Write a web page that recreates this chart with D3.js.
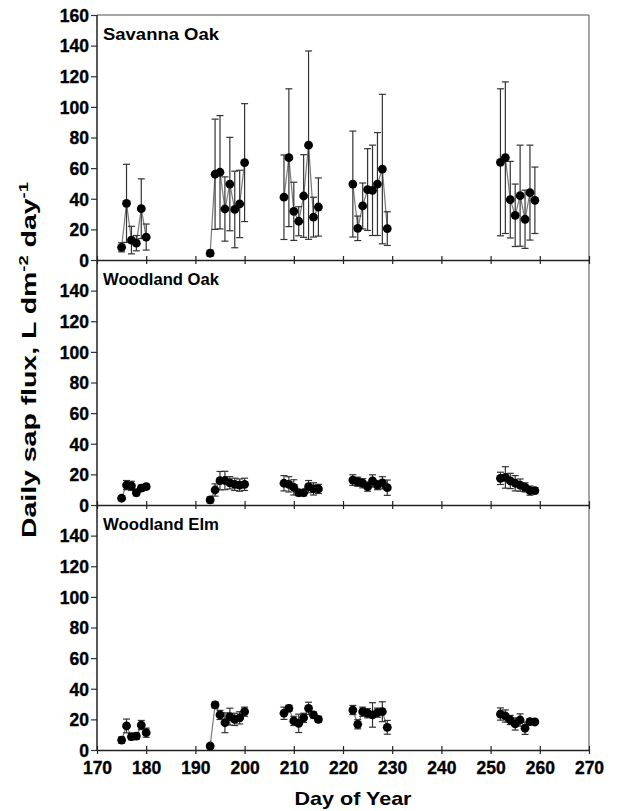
<!DOCTYPE html>
<html>
<head>
<meta charset="utf-8">
<script src="https://cdn.jsdelivr.net/npm/d3@7"></script>
<style>
    body { margin: 0; background: #fff; }
    svg text { font-family: "Liberation Sans", Arial, sans-serif; font-weight: bold; fill: #000; }
</style>
</head>
<body>
<svg id="sapPlot" width="617" height="811"></svg>
<script>
"use strict";

const width = 617;
const height = 811;
const margin = { "top": 15, "left": 97, "right": 28 };
const panelHeight = 245;
const innerWidth = width - margin.left - margin.right;

// data
const days = [175, 176, 177, 178, 179, 180,
    193, 194, 195, 196, 197, 198, 199, 200,
    208, 209, 210, 211, 212, 213, 214, 215,
    222, 223, 224, 225, 226, 227, 228, 229,
    252, 253, 254, 255, 256, 257, 258, 259];

const savannaOak = [8.3, 37, 13, 11, 33.5, 15,
    4.4, 56, 57.3, 33.3, 49.6, 33, 36.6, 63.6,
    41, 66.8, 31.8, 25.3, 41.8, 75, 28, 34.6,
    49.6, 20.7, 35.3, 46, 45.5, 49.6, 59.4, 20.5,
    63.8, 66.8, 39.4, 29.2, 42, 26.6, 44, 39];
const savannaOakErr = [3, 25.5, 9, 5, 19.5, 8.5,
    2, 36, 37, 21, 30.5, 25, 22, 38.5,
    27.6, 45, 19, 9.5, 27, 61.5, 13, 19,
    34.6, 8, 15, 26.7, 29.5, 33.6, 48.8, 11,
    48, 49.5, 25, 20.4, 33, 19, 31, 21.7];

const woodlandOak = [4.4, 13, 12.5, 8, 11, 12,
    3.3, 9.8, 15.9, 16, 14.5, 13.5, 13, 13.5,
    14.2, 13.5, 11.5, 8, 8, 12, 10.5, 10.5,
    16.3, 15.2, 14.2, 12, 15.7, 13, 14.5, 11.3,
    17.4, 18, 15.7, 14.2, 13, 11.5, 9.4, 9.4];
const woodlandOakErr = [1.5, 3, 3, 2, 2, 1.5,
    2, 4, 6, 6, 4, 4, 4, 4,
    5, 5, 5, 2, 2, 4, 4, 3,
    3.5, 3, 3, 3, 4, 3, 4, 5,
    4, 7, 5, 5, 4, 3, 3, 2];

const woodlandElm = [6.5, 15.7, 8.7, 9.1, 16.3, 11.3,
    2.6, 29.4, 22.9, 17.8, 21.8, 20, 21, 25,
    24, 27.2, 19, 17.4, 21, 27.2, 22.9, 20,
    26.1, 16.8, 25, 24, 22.9, 24.4, 25, 14.8,
    23.5, 22.2, 19.6, 17, 19.6, 14.2, 18.5, 18.3];
const woodlandElmErr = [2, 4.5, 2, 2, 3, 3,
    1.5, 2, 3, 6.5, 5.5, 4, 4, 3,
    4, 2, 3, 6, 3, 4, 2, 2,
    3, 3, 3, 3, 8, 3, 6.5, 4.5,
    4, 4, 3, 4, 4, 4, 2, 1];

const panelNames = ["Savanna Oak", "Woodland Oak", "Woodland Elm"];
const panelValues = [savannaOak, woodlandOak, woodlandElm];
const panelErrors = [savannaOakErr, woodlandOakErr, woodlandElmErr];

const xTicks = d3.range(170, 271, 10);
const yTicks = [0, 20, 40, 60, 80, 100, 120, 140, 160];

const svg = d3.select("svg#sapPlot");

let xScale = d3.scaleLinear()
    .domain([170, 270])
    .range([margin.left, margin.left + innerWidth]);

// split days into runs of consecutive days
function runs(points) {
    let out = [];
    let cur = [];
    points.forEach((p, i) => {
        if (i > 0 && p.day - points[i - 1].day > 1) {
            out.push(cur);
            cur = [];
        }
        cur.push(p);
    });
    out.push(cur);
    return out;
}

function boldLabels(sel) {
    sel.style("font-family", "'Liberation Sans', Arial, sans-serif")
        .style("font-weight", "bold")
        .style("font-size", "17.5px")
        .attr("fill", "#000")
        .attr("stroke", "#000")
        .attr("stroke-width", 0.35);
}

function drawPanel(idx) {
    let top = margin.top + idx * panelHeight;
    let yScale = d3.scaleLinear()
        .domain([0, 160])
        .range([top + panelHeight, top]);

    let points = days.map((d, i) => ({
        day: d,
        v: panelValues[idx][i],
        e: panelErrors[idx][i]
    }));

    let g = svg.append("g").attr("class", "panel");

    // y axis
    let ticks = idx == 0 ? yTicks : yTicks.slice(0, 8);
    let yAxis = d3.axisLeft(yScale)
        .tickValues(ticks)
        .tickSize(6)
        .tickPadding(2);
    let ya = g.append("g")
        .attr("transform", `translate(${margin.left},0)`)
        .call(yAxis);
    ya.select(".domain").remove();
    ya.selectAll("line").attr("stroke", "#333").attr("stroke-width", 1.2);
    ya.selectAll("text")
        .call(boldLabels)
        .attr("dy", "0.36em");

    // x axis with ticks crossing the line
    let xAxis = d3.axisBottom(xScale)
        .tickValues(xTicks)
        .tickSizeInner(0)
        .tickSizeOuter(0)
        .tickFormat(d3.format("d"));
    let xa = g.append("g")
        .attr("transform", `translate(0,${top + panelHeight})`)
        .call(xAxis);
    xa.select(".domain").attr("stroke", "#222").attr("stroke-width", 1.5);
    xa.selectAll(".tick line")
        .attr("y1", -4).attr("y2", 4)
        .attr("stroke", "#222").attr("stroke-width", 1.2);
    if (idx != 2) {
        xa.selectAll("text").remove();
    } else {
        xa.selectAll("text")
            .call(boldLabels)
            .attr("y", 12);
    }

    // connecting lines
    let line = d3.line()
        .x(p => xScale(p.day))
        .y(p => yScale(p.v));
    g.selectAll("path.conn")
        .data(runs(points))
        .enter()
        .append("path")
        .attr("class", "conn")
        .attr("d", line)
        .attr("fill", "none")
        .attr("stroke", "#7a7a7a")
        .attr("stroke-width", 1.2);

    // error bars
    let capW = 3.5;
    let eb = g.selectAll("g.err")
        .data(points)
        .enter()
        .append("g")
        .attr("class", "err")
        .attr("stroke", "#333")
        .attr("stroke-width", 1.2);
    eb.append("line")
        .attr("x1", p => xScale(p.day)).attr("x2", p => xScale(p.day))
        .attr("y1", p => yScale(p.v - p.e)).attr("y2", p => yScale(p.v + p.e));
    eb.append("line")
        .attr("x1", p => xScale(p.day) - capW).attr("x2", p => xScale(p.day) + capW)
        .attr("y1", p => yScale(p.v + p.e)).attr("y2", p => yScale(p.v + p.e));
    eb.append("line")
        .attr("x1", p => xScale(p.day) - capW).attr("x2", p => xScale(p.day) + capW)
        .attr("y1", p => yScale(p.v - p.e)).attr("y2", p => yScale(p.v - p.e));

    // markers
    g.selectAll("circle.mark")
        .data(points)
        .enter()
        .append("circle")
        .attr("class", "mark")
        .attr("cx", p => xScale(p.day))
        .attr("cy", p => yScale(p.v))
        .attr("r", 4.4)
        .attr("fill", "#000");

    // panel label
    g.append("text")
        .attr("x", margin.left + 6)
        .attr("y", top + 25)
        .attr("textLength", 116)
        .attr("lengthAdjust", "spacingAndGlyphs")
        .style("font-size", "17px")
        .text(panelNames[idx]);
}

// frame: gray top and right, black left
svg.append("line")
    .attr("x1", margin.left).attr("x2", margin.left + innerWidth)
    .attr("y1", margin.top).attr("y2", margin.top)
    .attr("stroke", "#888").attr("stroke-width", 1.5);
svg.append("line")
    .attr("x1", margin.left + innerWidth).attr("x2", margin.left + innerWidth)
    .attr("y1", margin.top).attr("y2", margin.top + 3 * panelHeight)
    .attr("stroke", "#888").attr("stroke-width", 1.5);

[0, 1, 2].forEach(drawPanel);

svg.append("line")
    .attr("x1", margin.left).attr("x2", margin.left)
    .attr("y1", margin.top).attr("y2", margin.top + 3 * panelHeight)
    .attr("stroke", "#222").attr("stroke-width", 1.5);

// axis titles
svg.append("text")
    .attr("x", 353)
    .attr("y", 805)
    .attr("text-anchor", "middle")
    .attr("textLength", 117)
    .attr("lengthAdjust", "spacingAndGlyphs")
    .style("font-size", "19px")
    .text("Day of Year");

let yTitle = svg.append("text")
    .attr("transform", "translate(36,360) rotate(-90)")
    .attr("text-anchor", "middle")
    .attr("textLength", 356)
    .attr("lengthAdjust", "spacingAndGlyphs")
    .style("font-size", "20px");
yTitle.append("tspan").text("Daily sap flux, L dm");
yTitle.append("tspan").attr("dy", -8).style("font-size", "13px").text("-2");
yTitle.append("tspan").attr("dy", 8).text(" day");
yTitle.append("tspan").attr("dy", -8).style("font-size", "13px").text("-1");
</script>
</body>
</html>
